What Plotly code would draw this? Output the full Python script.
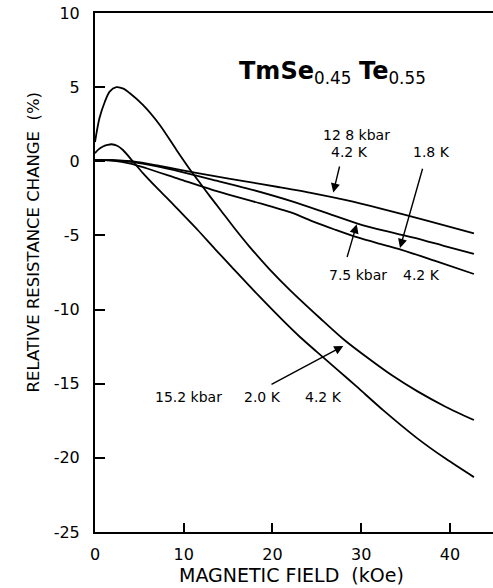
import plotly.graph_objects as go

# ---- data ----
# big-peak curve (15.2 kbar, 2.0 K)
xa = [0, 0.5, 1.1, 1.65, 2.4, 3.2, 3.9, 5.4, 7.3, 9.2, 10.7, 12.0, 13.0, 14.1, 15.7, 17.4, 19.7, 22.0, 25.4, 28.0, 30.6, 33.5, 36.3, 39.5, 42.7]
ya = [1.3, 2.9, 4.0, 4.7, 5.0, 4.9, 4.6, 3.8, 2.45, 0.75, -0.55, -1.6, -2.4, -3.25, -4.5, -5.75, -7.3, -8.7, -10.6, -12.0, -13.2, -14.45, -15.5, -16.55, -17.45]
# small-peak curve (15.2 kbar, 4.2 K)
xb = [0, 0.4, 0.9, 1.4, 1.85, 2.5, 3.15, 4.3, 5.4, 6.9, 8.4, 10.0, 11.6, 13.5, 15.6, 18.5, 21.2, 23.1, 25.0, 27.3, 29.5, 32.5, 36.25, 39.5, 42.7]
yb = [0.55, 0.8, 1.0, 1.1, 1.15, 1.05, 0.76, -0.03, -0.8, -1.75, -2.65, -3.65, -4.65, -5.9, -7.25, -9.1, -10.75, -11.85, -12.85, -14.05, -15.2, -16.8, -18.65, -20.05, -21.3]
# 12.8 kbar, 4.2 K
xc = [0, 2, 4.3, 7, 9.6, 13, 17.1, 20.8, 24.6, 28.3, 32.1, 37.4, 42.7]
yc = [0.1, 0.07, 0.0, -0.28, -0.58, -0.95, -1.37, -1.75, -2.16, -2.62, -3.17, -4.0, -4.86]
# 7.5 kbar, 1.8 K
xd = [0, 2, 4.3, 7, 9.6, 13.3, 17.1, 22.3, 25.9, 29.5, 32.7, 35.9, 39.3, 42.7]
yd = [0.1, 0.07, -0.05, -0.35, -0.70, -1.25, -1.82, -2.72, -3.45, -4.18, -4.7, -5.15, -5.7, -6.25]
# 7.5 kbar, 4.2 K
xe = [0, 2, 4.0, 5.8, 9.5, 13.3, 17.8, 22.3, 24.6, 27.0, 29.5, 32.0, 34.2, 38.5, 42.7]
ye = [0.1, 0.05, -0.15, -0.47, -1.2, -1.94, -2.7, -3.5, -4.07, -4.6, -5.12, -5.55, -5.9, -6.75, -7.6]

x_ticks = [0, 10, 20, 30, 40]
y_ticks = [10, 5, 0, -5, -10, -15, -20, -25]

# labels: (text, x, y)
labels = [
    ("12 8 kbar", 29.5, 1.77),
    ("4.2 K", 28.7, 0.62),
    ("1.8 K", 37.9, 0.62),
    ("7.5 kbar", 29.6, -7.67),
    ("4.2 K", 36.8, -7.67),
    ("15.2 kbar", 10.5, -15.9),
    ("2.0 K", 18.9, -15.9),
    ("4.2 K", 25.7, -15.9),
]
# arrows: (tip x, tip y, tail x, tail y)
arrows = [
    (26.85, -2.1, 27.6, -0.25),
    (34.37, -5.85, 36.96, -0.4),
    (29.49, -4.25, 28.36, -6.56),
    (27.98, -12.45, 19.72, -15.1),
]

FONT = "DejaVu Sans"

fig = go.Figure()
for xs, ys in [(xa, ya), (xb, yb), (xc, yc), (xd, yd), (xe, ye)]:
    fig.add_trace(go.Scatter(x=xs, y=ys, mode="lines",
                             line=dict(color="black", width=1.8, shape="spline", smoothing=0.8),
                             showlegend=False, hoverinfo="skip"))

for t, x, y in labels:
    fig.add_annotation(x=x, y=y, text=t, showarrow=False, xref="x", yref="y",
                       font=dict(family=FONT, size=14, color="black"))

for tx, ty, sx, sy in arrows:
    fig.add_annotation(x=tx, y=ty, ax=sx, ay=sy, xref="x", yref="y", axref="x", ayref="y",
                       text="", showarrow=True, arrowhead=2, arrowsize=1.3, arrowwidth=1.4,
                       arrowcolor="black", standoff=0, startstandoff=0)

fig.add_annotation(x=16.0, y=6.0, xref="x", yref="y", xanchor="left", yanchor="middle", showarrow=False,
                   text="<b>TmSe</b><sub>0.45</sub> <b>Te</b><sub>0.55</sub>",
                   font=dict(family=FONT, size=24, color="black"))

fig.add_annotation(x=0.4925, y=-0.083, xref="paper", yref="paper", showarrow=False,
                   text="MAGNETIC FIELD  (kOe)", font=dict(family=FONT, size=19, color="black"),
                   xanchor="center", yanchor="middle")
fig.add_annotation(x=-0.1545, y=0.5588, xref="paper", yref="paper", showarrow=False, textangle=-90,
                   text="RELATIVE RESISTANCE CHANGE  (%)", font=dict(family=FONT, size=16.5, color="black"),
                   xanchor="center", yanchor="middle")

fig.update_layout(
    width=493, height=588,
    margin=dict(l=95, r=0, t=13, b=56),
    paper_bgcolor="white", plot_bgcolor="white",
    font=dict(family=FONT, color="black"),
)
fig.update_xaxes(range=[0, 44.85], tickvals=x_ticks, ticktext=[str(v) for v in x_ticks],
                 ticks="inside", ticklen=9, tickwidth=1.5, tickcolor="black",
                 showline=True, linecolor="black", linewidth=2, mirror=True,
                 showgrid=False, zeroline=False, tickfont=dict(size=16, family=FONT, color="black"),
                 ticklabelstandoff=7)
fig.update_yaxes(range=[-25, 10], tickvals=y_ticks, ticktext=[str(v) for v in y_ticks],
                 ticks="inside", ticklen=10, tickwidth=1.5, tickcolor="black",
                 showline=True, linecolor="black", linewidth=2, mirror=False,
                 showgrid=False, zeroline=False, tickfont=dict(size=16, family=FONT, color="black"),
                 ticklabelstandoff=10)

fig.write_html("out.html")
